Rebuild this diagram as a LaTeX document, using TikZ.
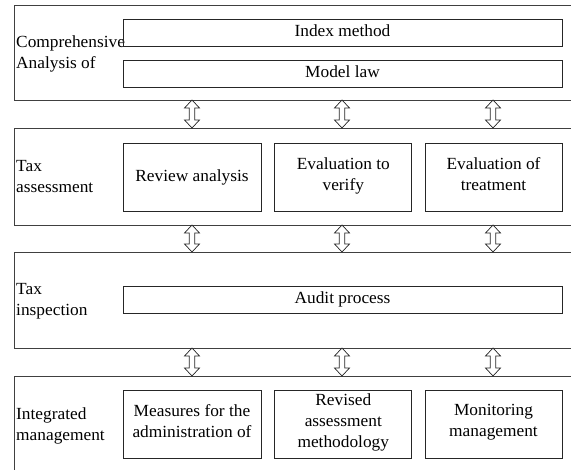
\documentclass[tikz,border=0pt]{standalone}
\usepackage{fontspec}
\setmainfont{Liberation Serif}[FakeStretch=1.02]
\usetikzlibrary{calc}
\begin{document}
\begin{tikzpicture}[x=1pt,y=-1pt,
  every node/.style={font=\fontsize{17}{21}\selectfont, execute at begin node=\strut, execute at end node=\strut},
  outer/.style={draw=black!75, line width=0.9pt, rectangle, anchor=north west, inner sep=0pt, outer sep=0pt, minimum width=580pt},
  ibox/.style={draw=black!85, line width=0.8pt, rectangle, inner sep=0pt, outer sep=0pt, align=center,
    execute at begin node={\rule[-6.3pt]{0pt}{19.7pt}}},
  lbl/.style={anchor=west, inner sep=0pt, align=left},
  blockarrow/.style={draw=black!85, fill=white, line width=0.7pt, line join=miter,
    to path={let \p1=(\tikztostart), \p2=(\tikztotarget) in
      -- (\x1+7.5pt,\y1-8pt) -- (\x1+2.8pt,\y1-8pt) -- (\x1+2.8pt,\y2+8pt) -- (\x1+7.5pt,\y2+8pt)
      -- (\x1,\y2) -- (\x1-7.5pt,\y2+8pt) -- (\x1-2.8pt,\y2+8pt) -- (\x1-2.8pt,\y1-8pt) -- (\x1-7.5pt,\y1-8pt) -- cycle}}
]
\useasboundingbox (0,0) rectangle (571,470);
\clip (0,0) rectangle (571,470);

% outer boxes
\node[outer, minimum height=95pt] (o1) at (14,5) {};
\node[outer, minimum height=97pt] (o2) at (14,128) {};
\node[outer, minimum height=96pt] (o3) at (14,252) {};
\node[outer, minimum height=110pt] (o4) at (14,376) {};

% labels
\node[lbl] (l1) at (16,55) {Comprehensive\\Analysis of};
\node[lbl] (l2) at (16,180) {Tax\\assessment};
\node[lbl] (l3) at (16,303) {Tax\\inspection};
\node[lbl] (l4) at (16,427.5) {Integrated\\management};

% inner boxes
\node[ibox, minimum width=439pt, minimum height=27pt] (idx) at (342.5,32.5) {Index method};
\node[ibox, minimum width=439pt, minimum height=27pt] (mdl) at (342.5,73.5) {Model law};

\node[ibox, minimum width=138pt, minimum height=68pt] (rev) at (192,177) {Review analysis};
\node[ibox, minimum width=137pt, minimum height=68pt] (ver) at (343.3,177) {Evaluation to\\verify};
\node[ibox, minimum width=137pt, minimum height=68pt] (trt) at (493.5,177) {Evaluation of\\treatment};

\node[ibox, minimum width=439pt, minimum height=27pt] (aud) at (342.5,299.5) {Audit process};

\node[ibox, minimum width=138pt, minimum height=68pt] (mea) at (192,424) {Measures for the\\administration of};
\node[ibox, minimum width=137pt, minimum height=68pt] (rvm) at (343.3,424) {Revised\\assessment\\methodology};
\node[ibox, minimum width=137pt, minimum height=68pt] (mon) at (493.5,424) {Monitoring\\management};

% columns for arrows
\coordinate (c1) at (192,0);
\coordinate (c2) at (342,0);
\coordinate (c3) at (493,0);

\draw[blockarrow] (o1.south -| c1) to (o2.north -| c1);
\draw[blockarrow] (o1.south -| c2) to (o2.north -| c2);
\draw[blockarrow] (o1.south -| c3) to (o2.north -| c3);
\draw[blockarrow] (o2.south -| c1) to (o3.north -| c1);
\draw[blockarrow] (o2.south -| c2) to (o3.north -| c2);
\draw[blockarrow] (o2.south -| c3) to (o3.north -| c3);
\draw[blockarrow] (o3.south -| c1) to (o4.north -| c1);
\draw[blockarrow] (o3.south -| c2) to (o4.north -| c2);
\draw[blockarrow] (o3.south -| c3) to (o4.north -| c3);
\end{tikzpicture}
\end{document}
